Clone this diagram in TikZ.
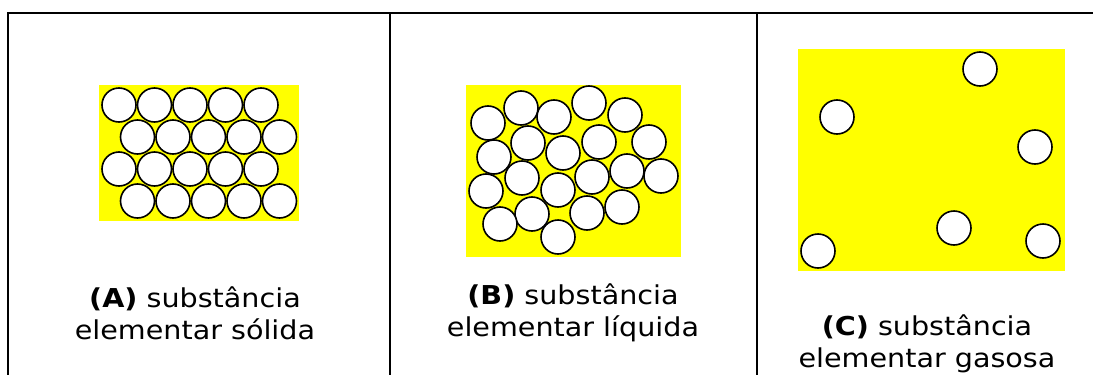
\documentclass[tikz,border=0pt]{standalone}
\usepackage{fontspec}
\setmainfont[FakeStretch=1.1]{DejaVu Sans}
\usepackage{xcolor}
\usepackage{tikz}
\usetikzlibrary{positioning}

\definecolor{boxyellow}{RGB}{255,255,0}

\begin{document}
\begin{tikzpicture}[
  x=1pt, y=-1pt,
  frame/.style={line width=2.4pt},
  box/.style={fill=boxyellow, draw=none},
  atom/.style={circle, draw, fill=white, line width=1.6pt, minimum size=34pt, inner sep=0pt},
  caption/.style={align=center, font=\fontsize{26}{32}\selectfont}
]
\useasboundingbox (0,0) rectangle (1093,375);

% frame of the three panels
\draw[frame] (8,375) -- (8,13) -- (1093,13);
\draw[frame] (390,13) -- (390,375);
\draw[frame] (757,13) -- (757,375);

% (A) solid
\fill[box] (99,85) rectangle (299,221);
\foreach \r/\y/\dx in {1/105/0, 2/137/18.5, 3/169/0, 4/201/18.5} {
  \foreach \c in {0,...,4} {
    \node[atom] (a-\r-\c) at ({119+\dx+35.5*\c},\y) {};
  }
}

% (B) liquid
\fill[box] (466,85) rectangle (681,257);
\foreach \x/\y [count=\i] in {488/123, 521/108, 554/117, 589/103, 625/115,
  528/143, 494/157, 563/153, 599/142, 649/142,
  522/178, 486/191, 592/177, 627/171, 661/176,
  558/190, 532/214, 500/224, 587/213, 622/207, 558/237} {
  \node[atom] (b-\i) at (\x,\y) {};
}

% (C) gas
\fill[box] (798,49) rectangle (1065,271);
\foreach \x/\y [count=\i] in {980/69, 837/117, 1035/147, 954/228, 818/251, 1043/241} {
  \node[atom] (c-\i) at (\x,\y) {};
}

% captions
\node[caption] (capA) at (195,313) {\textbf{(A)} substância\\elementar sólida};
\node[caption] (capB) at (573,313) {\textbf{(B)} substância\\elementar líquida};
\node[caption] (capC) at (927,344) {\textbf{(C)} substância\\elementar gasosa};

\end{tikzpicture}
\end{document}
